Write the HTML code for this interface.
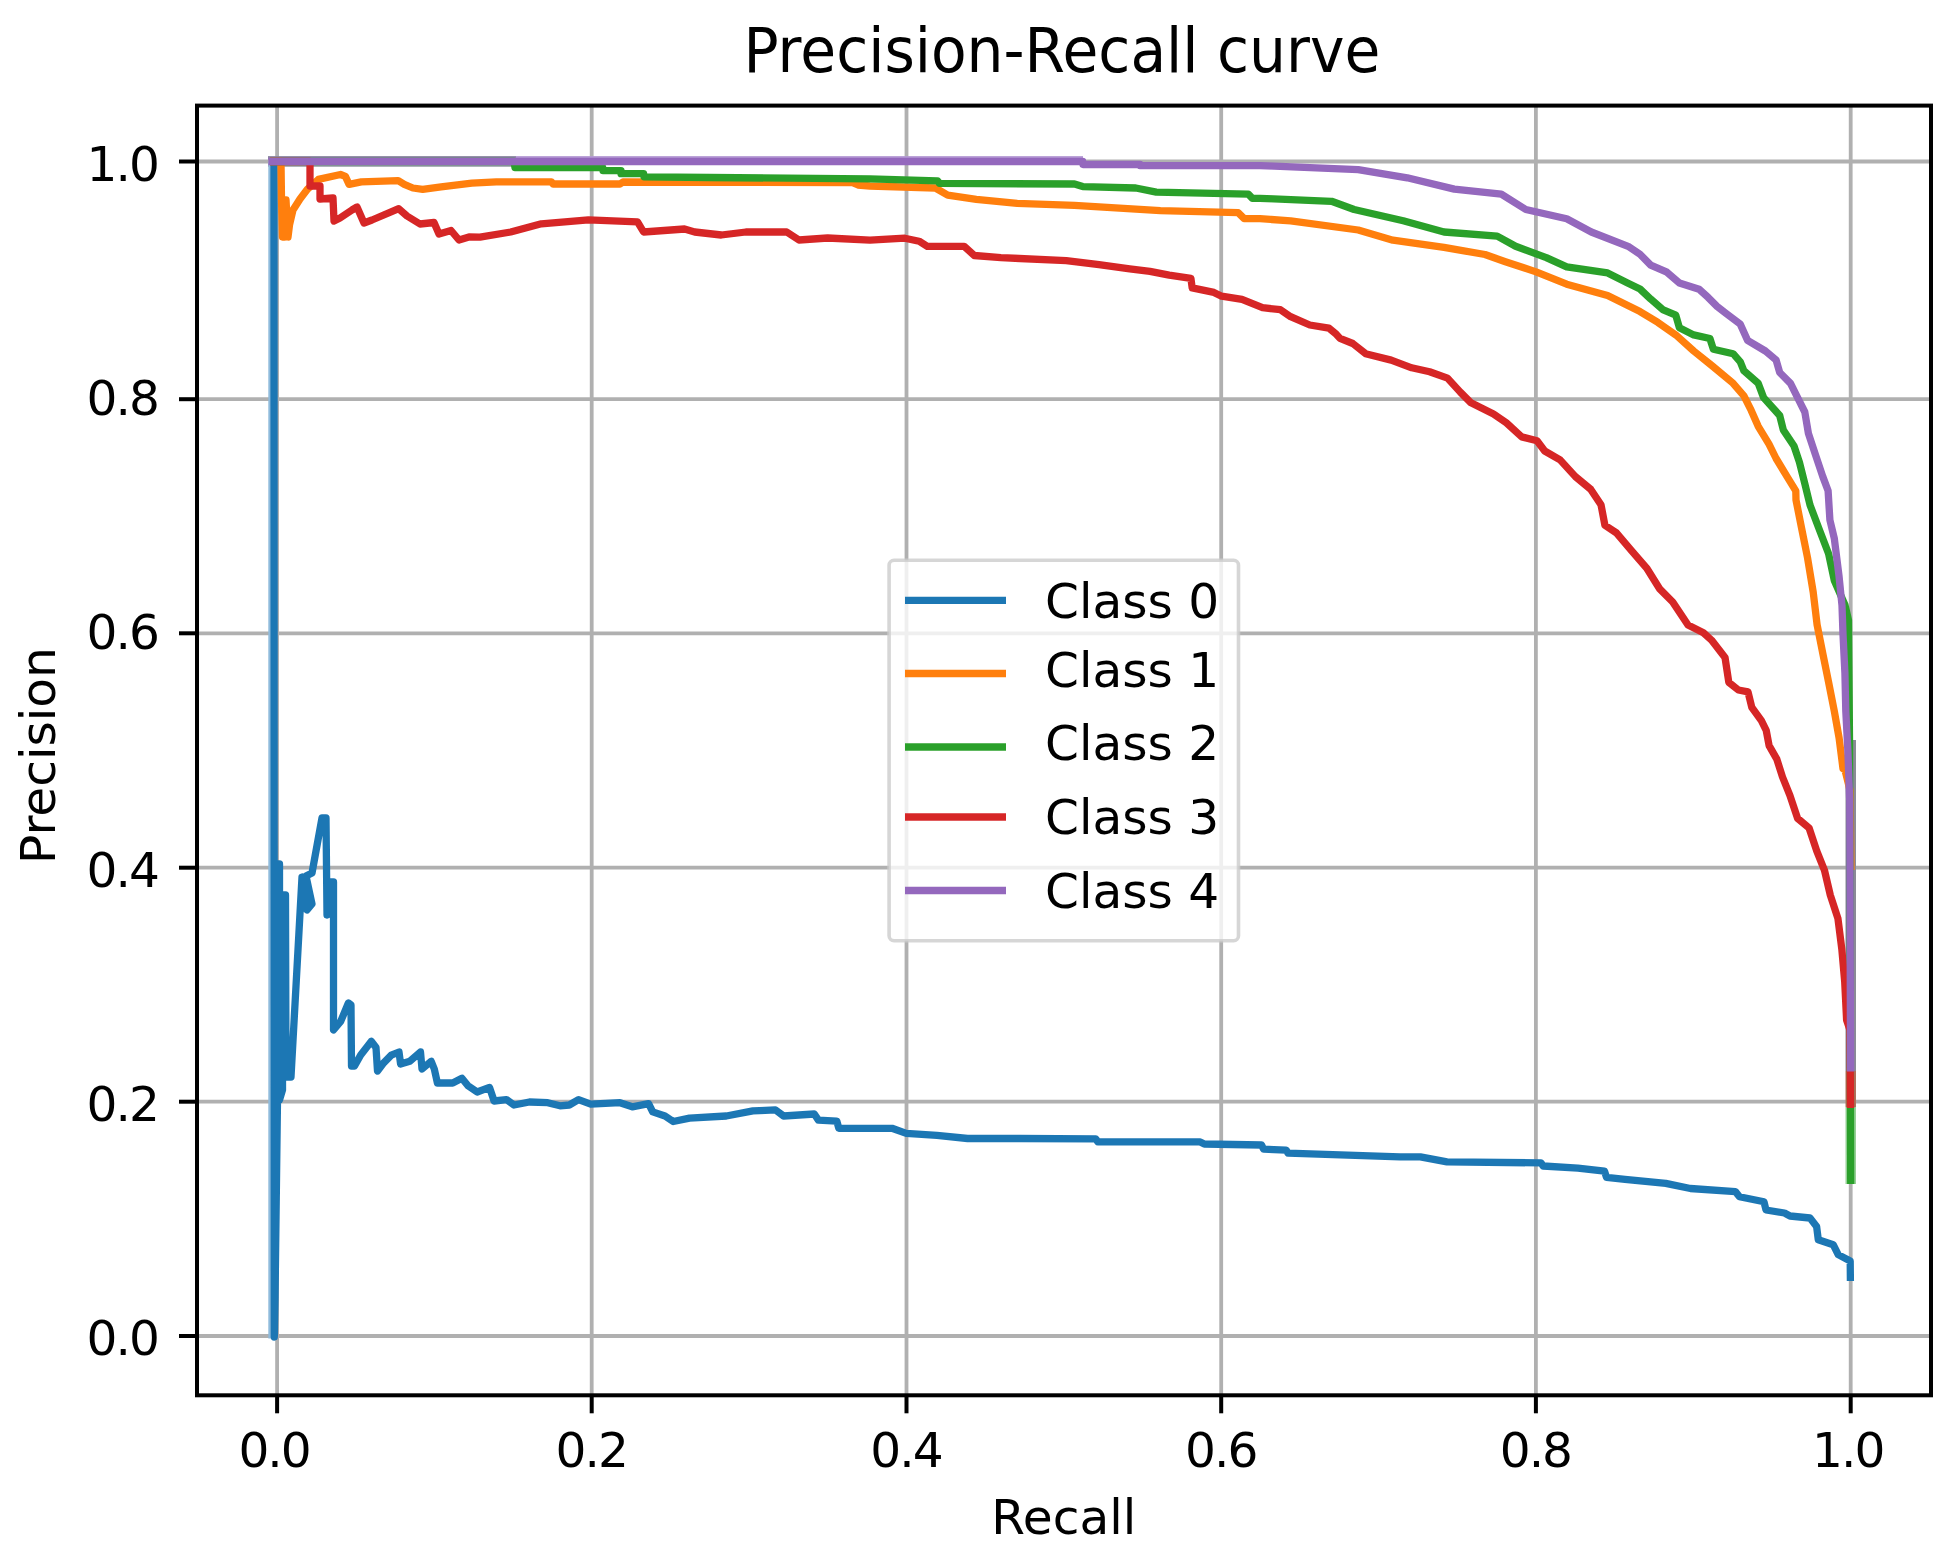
<!DOCTYPE html>
<html><head><meta charset="utf-8"><title>Precision-Recall curve</title>
<style>
html,body{margin:0;padding:0;background:#ffffff;width:1956px;height:1563px;overflow:hidden}
svg{display:block}
text{font-family:"DejaVu Sans", "Liberation Sans", sans-serif;fill:#000000}
</style></head><body>
<svg width="1956" height="1563" viewBox="0 0 1956 1563">
<defs><clipPath id="axclip"><rect x="197.0" y="105.6" width="1734.0" height="1289.7"/></clipPath>
<filter id="soft" x="0" y="0" width="100%" height="100%"><feGaussianBlur stdDeviation="0.6"/></filter></defs>
<g filter="url(#soft)">
<rect x="0" y="0" width="1956" height="1563" fill="#ffffff"/>

<g stroke="#b0b0b0" stroke-width="3.8" fill="none"><line x1="277.1" y1="105.6" x2="277.1" y2="1395.3"/><line x1="591.7" y1="105.6" x2="591.7" y2="1395.3"/><line x1="906.5" y1="105.6" x2="906.5" y2="1395.3"/><line x1="1221.2" y1="105.6" x2="1221.2" y2="1395.3"/><line x1="1535.9" y1="105.6" x2="1535.9" y2="1395.3"/><line x1="1850.7" y1="105.6" x2="1850.7" y2="1395.3"/><line x1="197.0" y1="1336.0" x2="1931.0" y2="1336.0"/><line x1="197.0" y1="1101.7" x2="1931.0" y2="1101.7"/><line x1="197.0" y1="867.7" x2="1931.0" y2="867.7"/><line x1="197.0" y1="633.3" x2="1931.0" y2="633.3"/><line x1="197.0" y1="399.2" x2="1931.0" y2="399.2"/><line x1="197.0" y1="161.5" x2="1931.0" y2="161.5"/></g>
<g><rect x="268" y="156.1" width="248" height="3.7" fill="#8a84a0"/><rect x="268" y="163.1" width="245" height="3.7" fill="#97a0a8"/><rect x="516" y="156.1" width="567" height="3.7" fill="#b59ad4"/><rect x="1845.5" y="740" width="10.5" height="331" fill="#8a8a96"/><rect x="268.3" y="161.5" width="3.6" height="1177" fill="#8fbbdc"/><rect x="1845.5" y="1071" width="10.5" height="36" fill="#b0705c"/><rect x="1845.5" y="1107" width="10.5" height="77" fill="#96d096"/></g>
<g clip-path="url(#axclip)" fill="none" stroke-width="7.3" stroke-linejoin="round" stroke-linecap="butt">
<polyline stroke="#1f77b4" points="1850.4,1281.0 1850.2,1261.0 1838.2,1254.6 1833.2,1244.7 1818.3,1239.7 1816.6,1226.4 1810.0,1218.0 1790.0,1216.0 1784.5,1213.0 1766.0,1210.0 1764.0,1201.8 1739.5,1196.7 1735.4,1191.6 1690.4,1188.5 1665.8,1183.4 1625.0,1179.3 1606.5,1177.3 1604.5,1171.1 1577.9,1168.1 1543.1,1166.0 1541.1,1162.9 1447.0,1161.9 1420.4,1156.8 1400.0,1156.8 1288.1,1153.2 1286.1,1150.1 1263.6,1149.1 1261.5,1145.0 1204.3,1144.0 1200.2,1141.9 1097.9,1141.9 1095.9,1138.9 1020.0,1138.5 967.6,1138.5 937.0,1135.4 906.3,1133.4 892.0,1128.3 838.8,1128.3 836.8,1121.1 818.4,1120.1 814.3,1114.0 783.6,1116.0 775.4,1109.9 752.9,1110.9 726.3,1116.0 689.5,1118.1 673.2,1121.5 665.0,1116.0 652.7,1111.9 648.6,1103.7 632.3,1106.8 620.0,1102.7 590.7,1104.2 578.5,1099.6 569.3,1105.0 560.0,1105.8 547.8,1102.7 529.4,1102.0 514.0,1105.0 506.4,1099.6 494.1,1101.0 489.5,1087.4 477.2,1092.0 468.0,1085.8 461.9,1078.2 452.7,1083.0 437.4,1083.0 434.3,1069.0 431.2,1061.3 422.0,1069.0 420.5,1052.0 409.8,1061.3 400.6,1064.0 399.0,1052.0 391.3,1055.2 383.7,1062.8 377.5,1071.0 376.0,1047.5 371.4,1041.3 360.7,1055.0 354.5,1066.0 351.5,1066.0 351.0,1005.0 348.4,1003.0 340.7,1021.4 333.5,1030.0 333.5,882.0 328.0,882.0 327.0,915.0 326.0,818.0 322.0,818.0 312.0,873.0 306.0,876.0 312.0,904.0 307.0,910.0 302.0,877.0 291.0,1077.0 286.0,1077.0 285.5,895.0 282.5,895.0 282.5,1090.0 279.5,1100.0 279.5,864.0 277.5,864.0 277.5,1100.0 275.0,1300.0 274.3,1337.0 274.0,161.5"/>
<polyline stroke="#ff7f0e" points="1851.0,870.0 1850.0,790.0 1845.0,770.0 1843.0,768.7 1839.1,738.0 1834.3,711.1 1828.6,682.3 1822.8,653.5 1817.1,624.7 1813.2,592.1 1807.5,557.6 1801.7,528.8 1796.0,500.0 1795.8,490.8 1786.9,476.4 1776.1,458.5 1769.0,444.2 1758.2,426.3 1751.1,410.2 1743.9,395.8 1733.1,383.3 1711.6,365.4 1693.7,351.0 1675.8,334.9 1657.9,322.4 1640.0,311.6 1607.6,295.4 1566.7,284.2 1536.1,271.9 1505.4,261.7 1485.0,254.5 1444.0,247.4 1392.9,240.2 1358.2,230.0 1290.7,220.8 1260.0,218.7 1244.2,218.7 1238.1,212.6 1160.4,210.6 1074.5,205.4 1017.2,203.4 976.3,199.3 947.7,195.2 935.4,188.0 870.0,186.0 858.0,185.0 852.0,182.5 623.0,182.0 620.0,184.0 553.0,184.0 551.6,181.9 540.0,181.9 496.3,181.9 471.8,183.1 441.1,186.8 422.7,189.3 412.9,188.0 404.3,184.4 398.2,180.7 361.3,181.9 349.1,184.4 345.4,176.4 340.5,174.5 318.4,179.4 307.4,189.3 300.0,199.0 293.0,210.0 289.5,225.0 288.0,237.0 286.0,200.0 284.5,237.0 282.5,237.0 281.5,200.0 281.0,161.5 270.0,161.5"/>
<polyline stroke="#2ca02c" points="1850.7,1184.0 1849.5,740.0 1848.5,620.0 1845.0,605.0 1834.3,580.6 1828.6,553.7 1819.0,528.8 1810.0,505.0 1804.8,483.6 1799.4,462.1 1794.0,446.0 1783.3,429.9 1779.7,415.5 1763.6,397.6 1758.2,383.3 1743.9,370.8 1740.3,361.8 1733.1,353.7 1713.4,349.3 1709.9,338.5 1693.7,334.9 1679.4,327.8 1675.8,315.2 1663.3,309.9 1650.7,299.1 1640.0,289.0 1628.1,283.2 1607.6,272.9 1566.7,266.8 1546.3,257.6 1515.6,246.3 1497.2,236.1 1444.0,232.0 1403.2,220.8 1354.1,209.5 1331.6,201.3 1260.0,198.3 1252.4,198.3 1248.3,194.2 1156.3,192.1 1135.8,188.0 1082.7,186.6 1074.5,184.0 939.5,183.4 937.5,180.9 870.0,178.9 709.0,177.5 644.0,176.8 643.6,173.7 621.0,173.7 621.0,170.7 603.0,170.7 602.7,167.6 515.0,167.6 514.0,161.5 270.0,161.5"/>
<polyline stroke="#d62728" points="1850.5,1108.0 1850.0,1030.0 1846.6,1020.0 1844.7,981.7 1841.8,949.0 1837.9,918.3 1830.3,895.2 1824.5,870.3 1816.8,851.1 1809.1,828.0 1797.6,818.4 1789.9,795.4 1782.5,777.0 1776.8,759.1 1769.1,745.6 1766.2,730.3 1761.4,720.7 1751.8,707.3 1748.0,691.9 1738.4,690.0 1728.8,682.3 1725.0,657.4 1711.5,640.1 1703.4,632.7 1688.0,625.0 1672.7,602.0 1659.9,589.2 1647.1,568.7 1631.7,550.8 1616.4,532.9 1604.9,525.2 1601.0,504.7 1590.8,489.4 1575.4,476.6 1560.1,459.9 1544.7,451.0 1537.0,440.8 1521.7,436.9 1506.3,422.8 1493.5,413.9 1470.5,402.4 1460.3,392.1 1447.5,378.1 1429.6,371.7 1411.7,367.8 1391.2,360.1 1365.6,353.7 1352.8,343.5 1340.0,338.4 1335.3,333.3 1328.9,328.2 1309.8,325.0 1290.6,316.7 1280.4,309.7 1262.5,307.7 1242.0,299.4 1221.6,296.2 1213.9,292.4 1192.2,287.9 1190.9,278.3 1169.2,275.1 1150.0,271.3 1129.7,268.8 1099.0,264.7 1066.3,260.7 1000.9,257.6 974.3,255.5 964.1,246.3 927.3,246.3 919.1,241.2 904.8,238.2 870.0,240.2 827.6,238.0 799.0,240.0 786.7,232.0 745.8,232.0 721.3,235.0 694.7,232.0 684.5,229.0 643.6,232.0 637.5,221.8 588.4,219.8 541.3,223.8 510.7,232.0 480.0,237.1 469.0,237.0 459.0,240.0 451.0,230.5 439.0,234.0 434.0,222.5 420.0,224.0 407.0,216.0 398.7,208.7 372.0,220.0 364.0,223.0 357.0,207.0 352.0,210.0 340.0,218.0 334.0,221.0 333.0,198.0 320.0,199.0 320.0,186.0 310.0,186.0 310.0,161.5 270.0,161.5"/>
<polyline stroke="#9467bd" points="1850.6,1071.6 1849.7,800.0 1847.8,749.5 1845.8,711.1 1844.9,672.7 1843.0,634.3 1842.0,605.5 1839.1,576.8 1834.3,538.4 1829.9,520.0 1828.1,490.8 1822.7,476.4 1815.5,454.9 1808.4,433.4 1804.8,412.0 1797.6,397.6 1790.5,383.3 1779.7,372.5 1776.1,360.0 1765.4,351.0 1747.5,340.3 1740.3,324.2 1726.0,313.4 1717.0,306.3 1708.0,297.3 1699.1,289.3 1679.4,283.0 1666.9,272.2 1650.7,265.1 1640.0,254.3 1628.1,246.3 1591.3,232.0 1566.7,218.7 1525.8,209.5 1501.3,194.2 1454.3,189.1 1407.2,177.8 1358.2,169.7 1260.0,165.6 1140.0,165.6 1140.0,164.5 1083.0,164.5 1082.7,161.5 268.4,161.5"/>
</g>
<rect x="197.0" y="105.6" width="1734.0" height="1289.7" fill="none" stroke="#000" stroke-width="4.0" stroke-linejoin="miter"/>
<g stroke="#000" stroke-width="4.0"><line x1="277.1" y1="1395.3" x2="277.1" y2="1413.3"/><line x1="591.7" y1="1395.3" x2="591.7" y2="1413.3"/><line x1="906.5" y1="1395.3" x2="906.5" y2="1413.3"/><line x1="1221.2" y1="1395.3" x2="1221.2" y2="1413.3"/><line x1="1535.9" y1="1395.3" x2="1535.9" y2="1413.3"/><line x1="1850.7" y1="1395.3" x2="1850.7" y2="1413.3"/><line x1="179.0" y1="1336.0" x2="197.0" y2="1336.0"/><line x1="179.0" y1="1101.7" x2="197.0" y2="1101.7"/><line x1="179.0" y1="867.7" x2="197.0" y2="867.7"/><line x1="179.0" y1="633.3" x2="197.0" y2="633.3"/><line x1="179.0" y1="399.2" x2="197.0" y2="399.2"/><line x1="179.0" y1="161.5" x2="197.0" y2="161.5"/></g>
<g font-size="48.6" letter-spacing="-2"><text x="274.1" y="1466.7" text-anchor="middle">0.0</text><text x="591.2" y="1466.7" text-anchor="middle">0.2</text><text x="906.0" y="1466.7" text-anchor="middle">0.4</text><text x="1220.7" y="1466.7" text-anchor="middle">0.6</text><text x="1535.4" y="1466.7" text-anchor="middle">0.8</text><text x="1847.7" y="1466.7" text-anchor="middle">1.0</text><text x="157.8" y="1354.8" text-anchor="end">0.0</text><text x="157.8" y="1120.7" text-anchor="end">0.2</text><text x="157.8" y="886.7" text-anchor="end">0.4</text><text x="157.8" y="648.7" text-anchor="end">0.6</text><text x="157.8" y="414.8" text-anchor="end">0.8</text><text x="157.8" y="180.5" text-anchor="end">1.0</text></g>
<text x="1063.7" y="1533.5" font-size="48.6" text-anchor="middle">Recall</text>
<text transform="translate(55.2,755.6) rotate(-90)" x="0" y="0" font-size="48.6" text-anchor="middle">Precision</text>
<text transform="translate(1061.9,72) scale(1,1.075)" x="0" y="0" font-size="58.3" text-anchor="middle">Precision-Recall curve</text>
<rect x="889.1" y="560.3" width="349.4" height="380.5" rx="5" ry="5" fill="#ffffff" fill-opacity="0.8" stroke="#cccccc" stroke-opacity="0.8" stroke-width="3.6"/>
<line x1="905" y1="600.4" x2="1006" y2="600.4" stroke="#1f77b4" stroke-width="7.3"/>
<text x="1045" y="617.5" font-size="48.6">Class 0</text>
<line x1="905" y1="673.5" x2="1006" y2="673.5" stroke="#ff7f0e" stroke-width="7.3"/>
<text x="1045" y="687.4" font-size="48.6">Class 1</text>
<line x1="905" y1="747.0" x2="1006" y2="747.0" stroke="#2ca02c" stroke-width="7.3"/>
<text x="1045" y="760.3" font-size="48.6">Class 2</text>
<line x1="905" y1="817.0" x2="1006" y2="817.0" stroke="#d62728" stroke-width="7.3"/>
<text x="1045" y="833.9" font-size="48.6">Class 3</text>
<line x1="905" y1="890.5" x2="1006" y2="890.5" stroke="#9467bd" stroke-width="7.3"/>
<text x="1045" y="907.5" font-size="48.6">Class 4</text>
</g></svg></body></html>
